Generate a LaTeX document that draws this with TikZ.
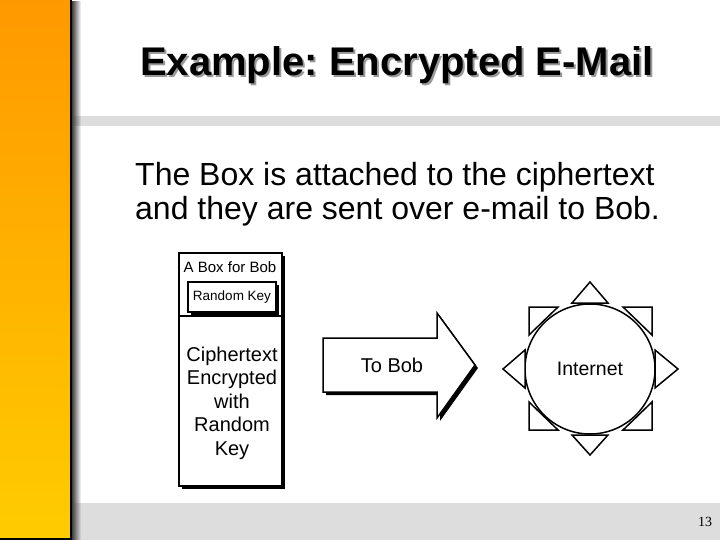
\documentclass[tikz,border=0pt]{standalone}
\usepackage{fontspec}
\setmainfont{Liberation Sans}
\newfontfamily\numfont{Liberation Serif}
\usetikzlibrary{fadings,shadows}
\definecolor{barorange}{HTML}{FF9900}
\definecolor{baryellow}{HTML}{FFCC00}
\definecolor{bargray}{HTML}{DDDDDD}
\frenchspacing
\tikzset{
  blk/.style={draw=black, line width=1.5pt, fill=white},
  hardshadow/.style={drop shadow={shadow xshift=3pt, shadow yshift=-3pt, fill=black, opacity=1}},
  tri/.style={draw=black, line width=1.5pt, fill=white, line join=miter},
  titlefont/.style={font=\fontsize{40}{40}\bfseries\selectfont},
}
\begin{document}
\begin{tikzpicture}[x=1pt,y=-1pt]
\useasboundingbox (0,0) rectangle (720,540);
\fill[white] (0,0) rectangle (720,540);
% gray bars
\fill[bargray] (72,116) rectangle (720,126);
\fill[bargray] (72,503) rectangle (720,540);
% side bar with shadow
\fill[black!75, path fading=east] (72,0) rectangle (81,540);
\shade[top color=barorange, bottom color=baryellow] (0,0) rectangle (71,540);
\draw[line width=1.2pt] (71,0) -- (71,539) -- (0,539);
% title
\node[titlefont, text=black!40] (titleshadow) at (399,67) {Example: Encrypted E-Mail};
\node[titlefont] (title) at (397,65) {Example: Encrypted E-Mail};
% body text
\node[anchor=base west, align=left, inner sep=0pt, font=\fontsize{32}{34}\selectfont] (body) at (135,220)
  {The Box is attached to the ciphertext\\and they are sent over e-mail to Bob.};
% the box
\node[blk, hardshadow, anchor=north west, minimum width=103pt, minimum height=233pt, inner sep=0pt] (box) at (178,252) {};
\draw[line width=1.5pt] (box.west |- 0,316) -- (box.east |- 0,316);
\node[font=\fontsize{15}{15}\selectfont, inner sep=0pt] (boxlabel) at (230,267) {A Box for Bob};
\node[blk, hardshadow, minimum width=88pt, minimum height=30pt, inner sep=0pt, font=\fontsize{13.5}{14}\selectfont] (key) at (232,297) {Random Key};
\node[align=center, inner sep=0pt, font=\fontsize{20}{23.5}\selectfont] (cipher) at (232,403)
  {Ciphertext\\Encrypted\\with\\Random\\Key};
% arrow
\filldraw[blk, hardshadow, line join=miter] (323,338) -- (437,338) -- (437,313) -- (475,365) -- (437,418) -- (437,392) -- (323,392) -- cycle;
\node[font=\fontsize{20}{20}\selectfont] (tobob) at (392,365) {To Bob};
% internet
\node[circle, draw, line width=1.5pt, fill=white, minimum size=130pt, inner sep=0pt, font=\fontsize{19.5}{20}\selectfont] (net) at (590,369) {Internet};
\draw[tri] (572,303) -- (590,282) -- (608,303) -- cycle;
\draw[tri] (572,435) -- (590,455) -- (608,435) -- cycle;
\draw[tri] (525,350) -- (503,369) -- (525,388) -- cycle;
\draw[tri] (655,350) -- (678,369) -- (655,388) -- cycle;
\draw[tri] (529,307) -- (558,307) -- (529,335) -- cycle;
\draw[tri] (652,307) -- (623,307) -- (652,335) -- cycle;
\draw[tri] (529,430) -- (558,430) -- (529,402) -- cycle;
\draw[tri] (652,430) -- (623,430) -- (652,402) -- cycle;
% page number
\node[font=\numfont\fontsize{14}{14}\selectfont] (pagenum) at (705,522) {13};
\end{tikzpicture}
\end{document}
